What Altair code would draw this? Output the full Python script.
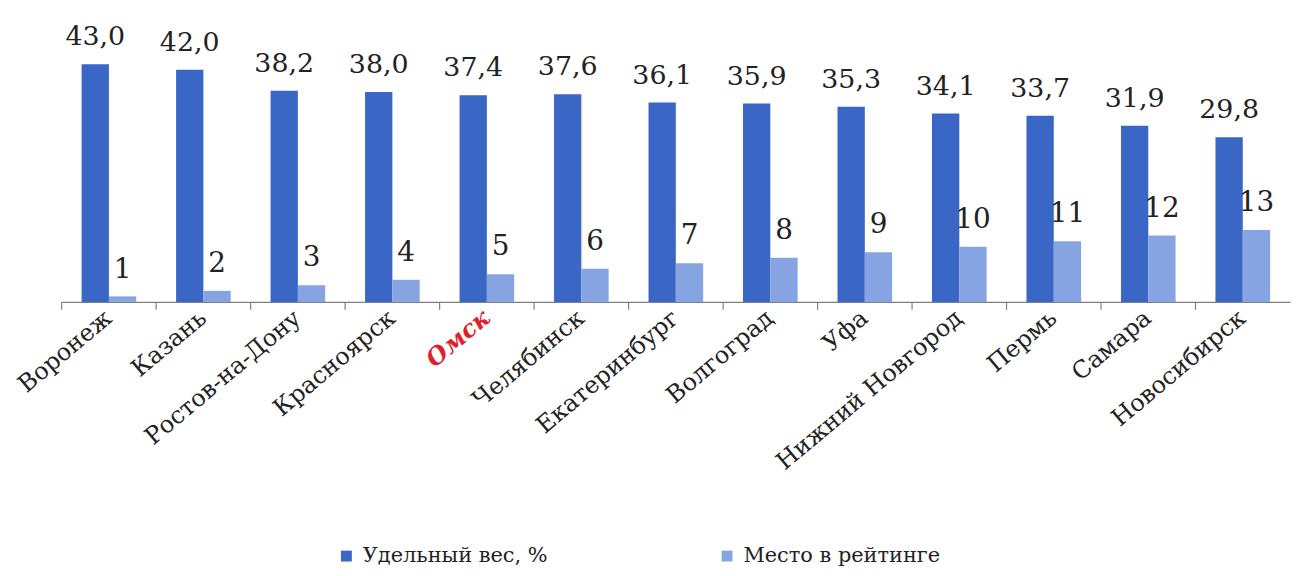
import altair as alt
import pandas as pd

cities = ["Воронеж", "Казань", "Ростов-на-Дону", "Красноярск", "Омск", "Челябинск",
          "Екатеринбург", "Волгоград", "Уфа", "Нижний Новгород", "Пермь", "Самара", "Новосибирск"]
share = [43.0, 42.0, 38.2, 38.0, 37.4, 37.6, 36.1, 35.9, 35.3, 34.1, 33.7, 31.9, 29.8]
rank = [1, 2, 3, 4, 5, 6, 7, 8, 9, 10, 11, 12, 13]
series_names = ["Удельный вес, %", "Место в рейтинге"]
colors = ["#3a66c6", "#86a3e2"]

rows = []
for c, s, r in zip(cities, share, rank):
    rows.append({"city": c, "series": series_names[0], "value": s})
    rows.append({"city": c, "series": series_names[1], "value": r})
df = pd.DataFrame(rows)

x_scale = alt.Scale(paddingInner=0, paddingOuter=0)

label_axis = alt.Axis(
    orient="bottom", ticks=False, domain=True, labelAngle=-40, labelAlign="right", labelBaseline="middle",
    labelFont="DejaVu Serif", labelFontSize=24,
    labelColor=alt.expr("datum.value == 'Омск' ? '#e0202a' : '#222222'"),
    labelFontWeight=alt.expr("datum.value == 'Омск' ? 'bold' : 'normal'"),
    labelFontStyle=alt.expr("datum.value == 'Омск' ? 'italic' : 'normal'"),
    domainColor="#808080", domainWidth=1.2,
    labelPadding=13, labelLimit=400, grid=False,
)

xoff = alt.XOffset("series:N", sort=series_names,
                   scale=alt.Scale(domain=series_names, paddingInner=0, paddingOuter=0.73))
y_enc = alt.Y("value:Q", scale=alt.Scale(domain=[0, 50]), axis=None)

base = alt.Chart(df)

bars = base.mark_bar().encode(
    x=alt.X("city:N", sort=cities, title=None, scale=x_scale, axis=label_axis),
    xOffset=xoff, y=y_enc,
    color=alt.Color(
        "series:N", sort=series_names,
        scale=alt.Scale(domain=series_names, range=colors),
        legend=alt.Legend(
            title=None, orient="none", legendX=276, legendY=523, direction="horizontal",
            symbolType="square", symbolSize=120, symbolStrokeWidth=0,
            labelFont="DejaVu Serif", labelFontSize=21, labelColor="#222222",
            columnPadding=169, padding=0, labelOffset=6, labelLimit=400,
        ),
    ),
)

# category boundary ticks (Excel-style), placed at the start of each category band
ticks_layer = base.transform_filter(
    alt.datum.series == series_names[0]
).mark_rule(color="#808080", strokeWidth=1.2).encode(
    x=alt.X("city:N", sort=cities, title=None, bandPosition=0, axis=None),
    y=alt.value(278), y2=alt.value(286),
)

txt_share = base.transform_filter(
    alt.datum.series == series_names[0]
).transform_calculate(
    lbl="replace(format(datum.value, '.1f'), '.', ',')"
).mark_text(
    font="DejaVu Serif", fontSize=27, baseline="alphabetic", dy=-19, color="#222222"
).encode(x=alt.X("city:N", sort=cities, title=None, axis=None),
         xOffset=xoff, y=y_enc, text="lbl:N")

txt_rank = base.transform_filter(
    alt.datum.series == series_names[1]
).mark_text(
    font="DejaVu Serif", fontSize=28, baseline="alphabetic", dy=-19, color="#222222"
).encode(x=alt.X("city:N", sort=cities, title=None, axis=None),
         xOffset=xoff, y=y_enc, text=alt.Text("value:Q", format="d"))

chart = alt.layer(bars, ticks_layer, txt_share, txt_rank).resolve_axis(x="independent").properties(
    width=1236, height=278,
    autosize=alt.AutoSizeParams(type="none"),
    padding={"left": 54, "top": 16, "right": 2, "bottom": 266},
).configure_view(stroke=None)

chart.save("out.html", embed_options={"renderer": "svg", "actions": False})
